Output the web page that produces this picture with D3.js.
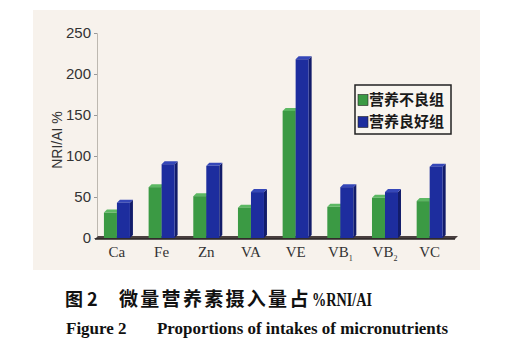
<!DOCTYPE html>
<html><head><meta charset="utf-8">
<script src="https://cdn.jsdelivr.net/npm/d3@7/dist/d3.min.js"></script>
<style>body{margin:0;background:#fff}</style>
</head><body>
<script>
const categories = ["Ca","Fe","Zn","VA","VE","VB1","VB2","VC"];
const seriesNames = ["营养不良组","营养良好组"];
const malnourished = [31, 62, 51, 37, 155, 38, 49, 45];
const wellNourished = [43, 90, 88, 56, 218, 62, 56, 87];
const yTicks = [0,50,100,150,200,250];

const W=515,H=356;
const svg=d3.select("body").append("svg").attr("width",W).attr("height",H);
svg.append("rect").attr("x",0).attr("y",0).attr("width",W).attr("height",H).attr("fill","#ffffff");
svg.append("rect").attr("x",33).attr("y",10).attr("width",447).attr("height",260).attr("fill","#f7f2ec");

const x=d3.scaleBand().domain(categories).range([94.6,452]);
const y=d3.scaleLinear().domain([0,250]).range([238,33]);
const colors=[{front:"#3b9a44",top:"#5cb863",side:"#2a6e30"},{front:"#1d2d9e",top:"#3547b8",side:"#121c6a"}];
const bw=13, dx=3, dy=3;

// y axis
const yAxis=d3.axisLeft(y).tickValues(yTicks).tickSize(3).tickPadding(3);
const gy=svg.append("g").attr("transform","translate(97,0)").call(yAxis);
gy.select(".domain").attr("stroke","#bdb8b0").attr("stroke-width",1);
gy.selectAll(".tick line").attr("stroke","#999");
gy.selectAll("text").attr("font-family","'Liberation Sans',Arial,sans-serif").attr("font-size",15).attr("fill","#333");

// floor
const x0=95, x1=455;
svg.append("path").attr("d",`M${x0},${y(0)+1} L${x1},${y(0)+1} L${x1+dx},${y(0)-dy+1} L${x0+dx},${y(0)-dy+1} Z`).attr("fill","#4a4040");
svg.append("line").attr("x1",x0).attr("x2",x1).attr("y1",y(0)+1).attr("y2",y(0)+1).attr("stroke","#2a2424").attr("stroke-width",1.5);

// bars
const data=categories.map((c,i)=>({c,vals:[malnourished[i],wellNourished[i]]}));
const g=svg.append("g");
data.forEach(d=>{
  const cx=x(d.c)+x.bandwidth()/2;
  d.vals.forEach((v,k)=>{
    const bx=cx-bw+k*bw, top=y(v), bot=y(0);
    const col=colors[k];
    g.append("path").attr("d",`M${bx+bw},${top} L${bx+bw+dx},${top-dy} L${bx+bw+dx},${bot-dy} L${bx+bw},${bot} Z`).attr("fill",col.side);
    g.append("path").attr("d",`M${bx},${top} L${bx+dx},${top-dy} L${bx+bw+dx},${top-dy} L${bx+bw},${top} Z`).attr("fill",col.top);
    g.append("rect").attr("x",bx).attr("y",top).attr("width",bw).attr("height",bot-top).attr("fill",col.front);
  });
});

// x labels
const xl=svg.append("g");
categories.forEach(c=>{
  const cx=x(c)+x.bandwidth()/2;
  const t=xl.append("text").attr("x",cx).attr("y",257).attr("text-anchor","middle")
    .attr("font-family","'Liberation Serif','Times New Roman',serif").attr("font-size",15).attr("fill","#333");
  const m=c.match(/^(VB)(\d)$/);
  if(m){t.append("tspan").text(m[1]);t.append("tspan").attr("font-size",8).attr("dy",4).text(m[2]);}
  else t.text(c);
});

// y label
svg.append("text").attr("transform","translate(62,140) rotate(-90)").attr("text-anchor","middle")
  .attr("font-family","'Liberation Sans',Arial,sans-serif").attr("font-size",14).attr("fill","#333").text("NRI/AI %");

// legend
const lg=svg.append("g");
lg.append("rect").attr("x",355).attr("y",85).attr("width",96).attr("height",49).attr("fill","#f9f6f0").attr("stroke","#222").attr("stroke-width",1.5);
seriesNames.forEach((s,i)=>{
  const yy=100+i*22;
  lg.append("rect").attr("x",358).attr("y",yy-5.5).attr("width",10).attr("height",11).attr("fill",colors[i].front).attr("stroke","#222").attr("stroke-width",0.6);
  lg.append("text").attr("x",369).attr("y",yy+5).attr("font-family","'Noto Sans CJK SC',sans-serif").attr("font-weight","bold")
    .attr("font-size",15).attr("fill","#1a1a1a").text(s);
});

// captions
const cap1=svg.append("g").attr("fill","#111");
cap1.append("text").attr("x",65).attr("y",306).attr("font-family","'Noto Sans CJK SC',sans-serif").attr("font-weight","bold")
  .attr("font-size",18).text("图 2");
cap1.append("text").attr("x",119).attr("y",306).attr("font-family","'Noto Sans CJK SC',sans-serif").attr("font-weight","bold")
  .attr("font-size",19).attr("letter-spacing",2.3).text("微量营养素摄入量占");
cap1.append("text").attr("x",312).attr("y",306).attr("font-family","'Liberation Serif','Times New Roman',serif").attr("font-weight","bold")
  .attr("font-size",19).attr("textLength",60).attr("lengthAdjust","spacingAndGlyphs").text("%RNI/AI");
const cap2=svg.append("g").attr("fill","#111").attr("font-family","'Liberation Serif','Times New Roman',serif").attr("font-weight","bold").attr("font-size",17);
cap2.append("text").attr("x",66).attr("y",334).text("Figure 2");
cap2.append("text").attr("x",157).attr("y",334).attr("textLength",291).attr("lengthAdjust","spacingAndGlyphs").text("Proportions of intakes of micronutrients");
</script>
</body></html>
